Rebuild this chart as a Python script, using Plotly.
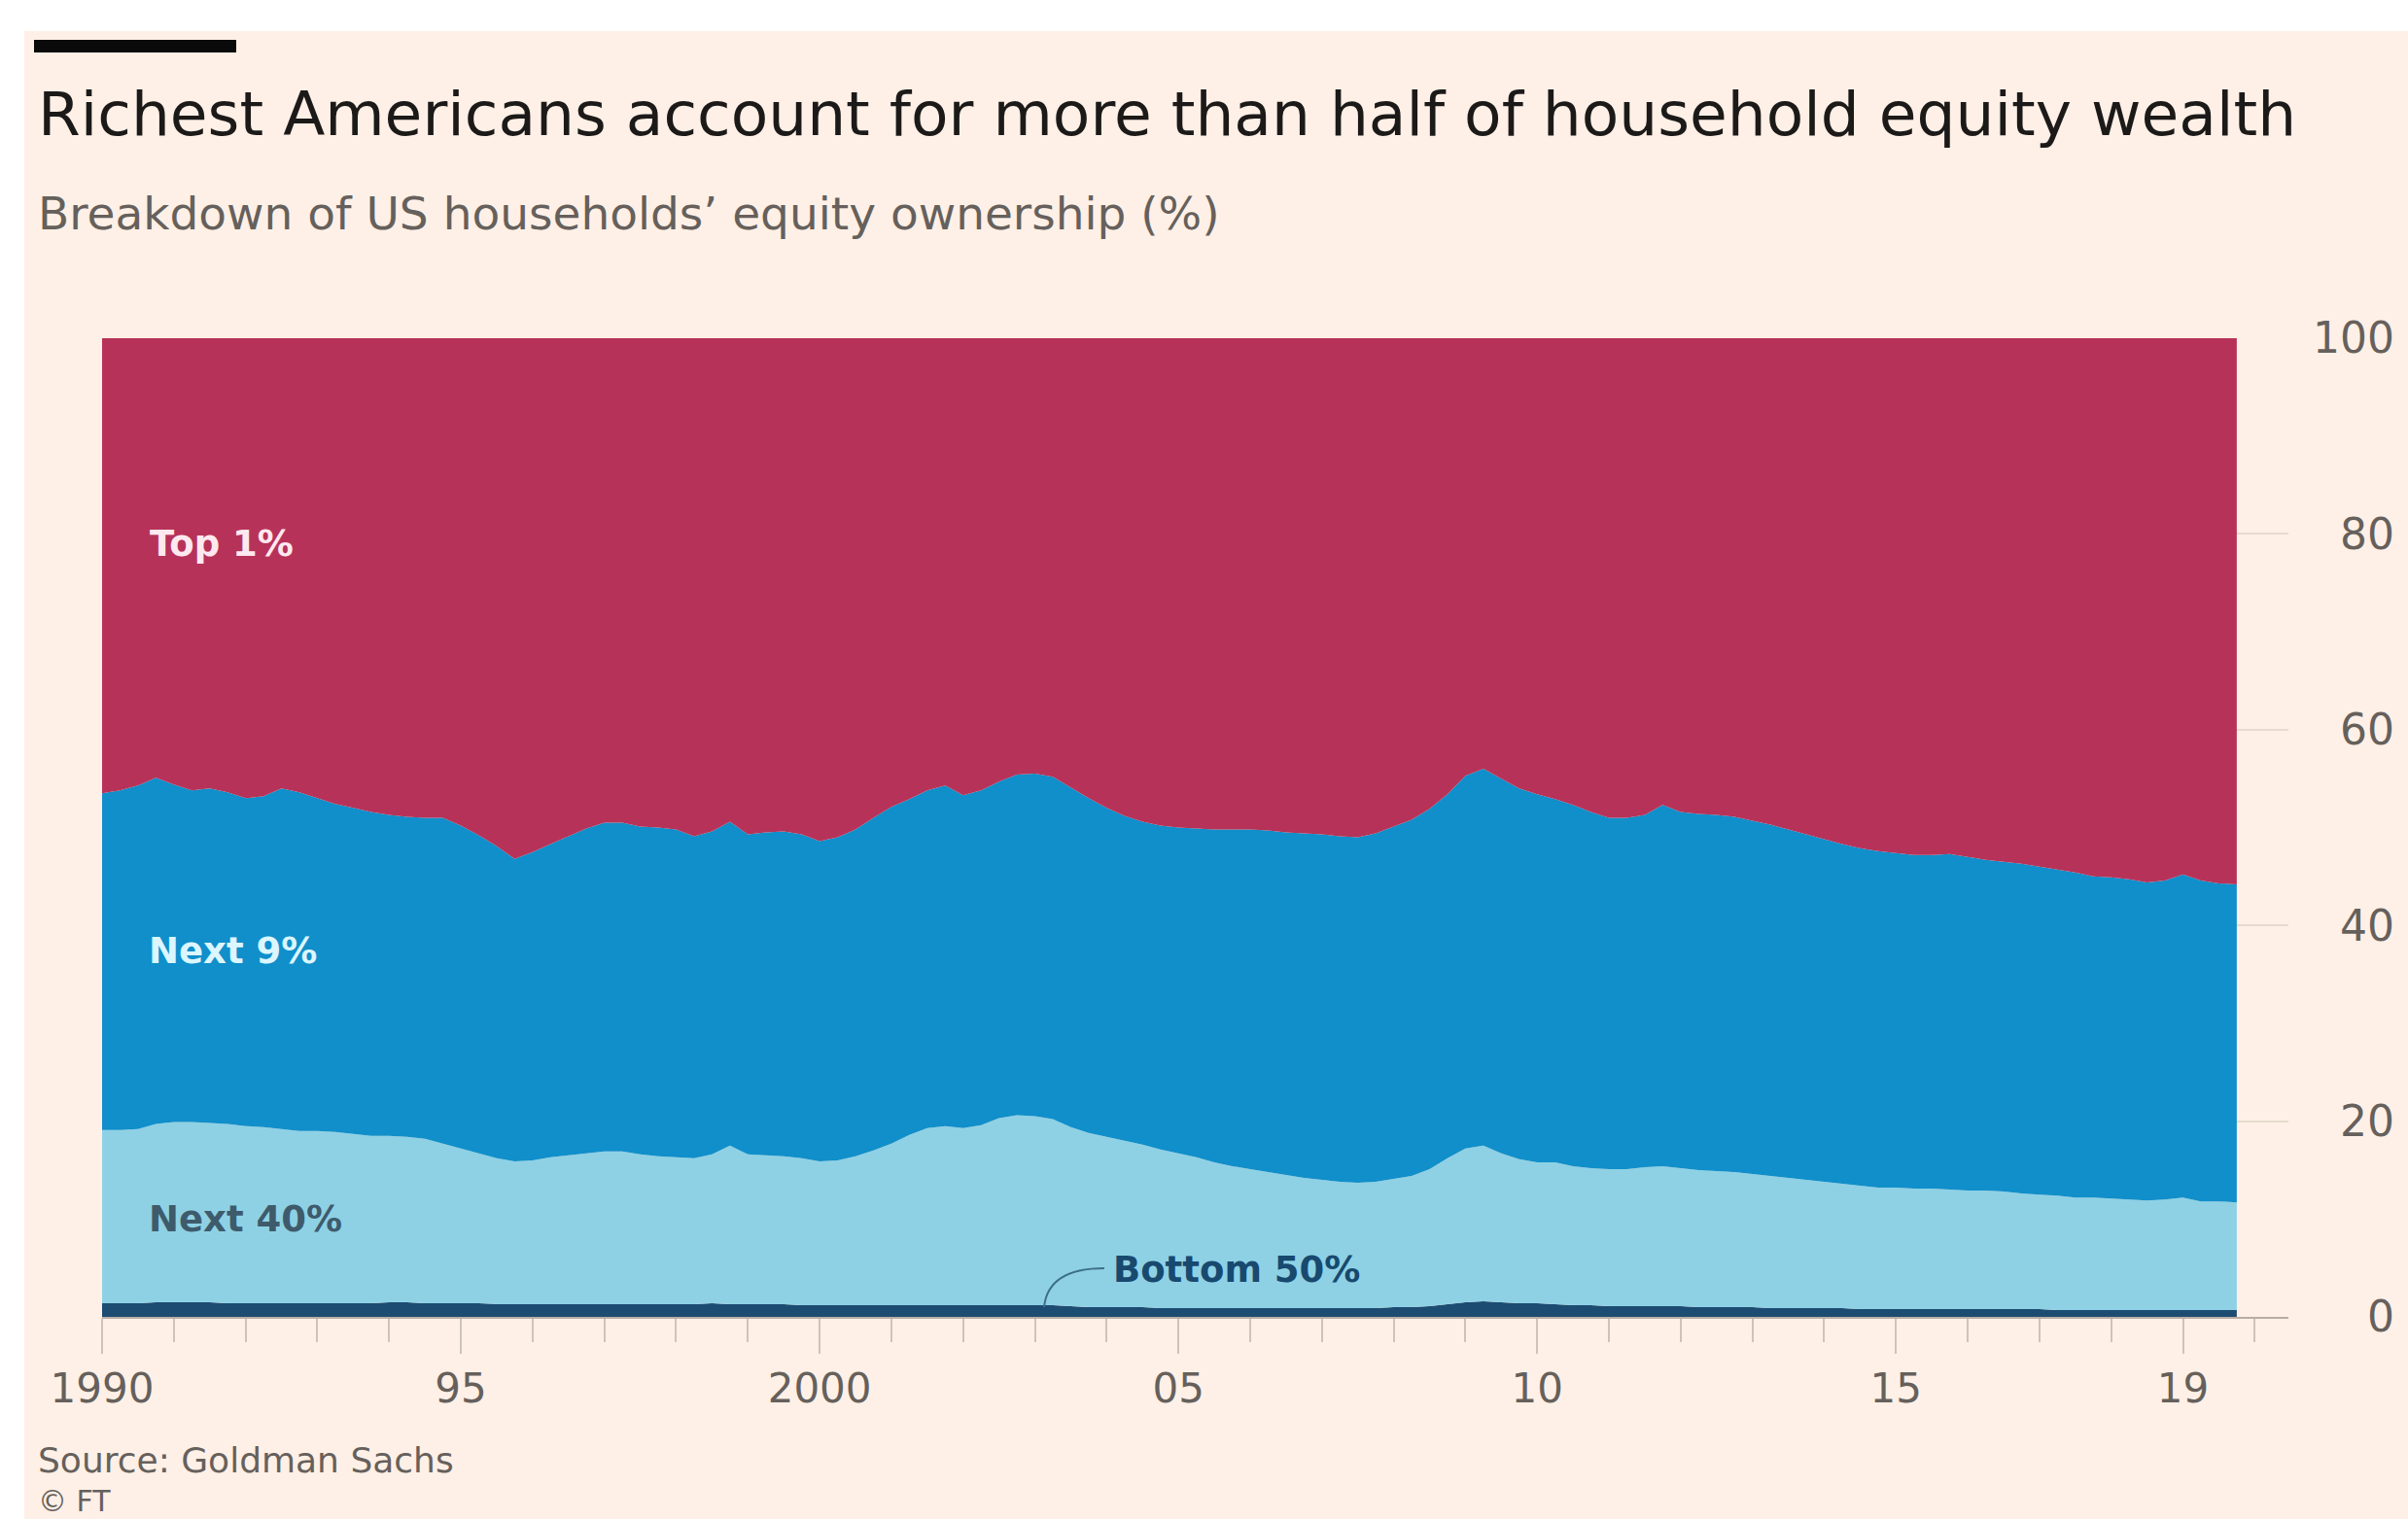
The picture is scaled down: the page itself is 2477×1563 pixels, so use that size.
import plotly.graph_objects as go

# ---------------- data (quarterly, 1990 Q1 - 2019 Q4 positions) ----------------
quarters = [1990 + 0.25 * i for i in range(120)]

bottom_50 = [
    1.4, 1.4, 1.4, 1.5,  1.5, 1.5, 1.5, 1.4,  1.4, 1.4, 1.4, 1.4,  1.4, 1.4, 1.4, 1.4,
    1.5, 1.5, 1.4, 1.4,  1.4, 1.4, 1.3, 1.3,  1.3, 1.3, 1.3, 1.3,  1.3, 1.3, 1.3, 1.3,
    1.3, 1.3, 1.4, 1.3,  1.3, 1.3, 1.3, 1.2,  1.2, 1.2, 1.2, 1.2,  1.2, 1.2, 1.2, 1.2,
    1.2, 1.2, 1.2, 1.2,  1.2, 1.2, 1.1, 1.0,  1.0, 1.0, 1.0, 0.9,  0.9, 0.9, 0.9, 0.9,
    0.9, 0.9, 0.9, 0.9,  0.9, 0.9, 0.9, 0.9,  1.0, 1.0, 1.1, 1.3,  1.5, 1.6, 1.5, 1.4,
    1.4, 1.3, 1.2, 1.2,  1.1, 1.1, 1.1, 1.1,  1.1, 1.0, 1.0, 1.0,  1.0, 0.9, 0.9, 0.9,
    0.9, 0.9, 0.8, 0.8,  0.8, 0.8, 0.8, 0.8,  0.8, 0.8, 0.8, 0.8,  0.8, 0.7, 0.7, 0.7,
    0.7, 0.7, 0.7, 0.7,  0.7, 0.7, 0.7, 0.7,
]

next_40 = [
    17.7, 17.7, 17.8, 18.2,  18.4, 18.4, 18.3, 18.3,  18.1, 18.0, 17.8, 17.6,
    17.6, 17.5, 17.3, 17.1,  17.0, 16.9, 16.8, 16.3,  15.8, 15.3, 14.9, 14.6,
    14.7, 15.0, 15.2, 15.4,  15.6, 15.6, 15.3, 15.1,  15.0, 14.9, 15.2, 16.2,
    15.3, 15.2, 15.1, 15.0,  14.7, 14.8, 15.2, 15.8,  16.5, 17.4, 18.1, 18.3,
    18.1, 18.4, 19.1, 19.4,  19.3, 19.0, 18.3, 17.8,  17.4, 17.0, 16.6, 16.2,
    15.8, 15.4, 14.9, 14.5,  14.2, 13.9, 13.6, 13.3,  13.1, 12.9, 12.8, 12.9,
    13.1, 13.4, 14.0, 14.9,  15.7, 15.9, 15.2, 14.7,  14.4, 14.5, 14.2, 14.0,
    14.0, 14.0, 14.2, 14.3,  14.1, 14.0, 13.9, 13.8,  13.6, 13.5, 13.3, 13.1,
    12.9, 12.7, 12.6, 12.4,  12.4, 12.3, 12.3, 12.2,  12.1, 12.1, 12.0, 11.8,
    11.7, 11.7, 11.5, 11.5,  11.4, 11.3, 11.2, 11.3,  11.5, 11.1, 11.1, 11.0,
]

next_9 = [
    34.4, 34.7, 35.1, 35.4,  34.5, 33.9, 34.2, 33.9,  33.5, 33.8, 34.8, 34.6,
    34.0, 33.5, 33.3, 33.1,  32.8, 32.7, 32.8, 33.3,  33.0, 32.5, 31.9, 30.9,
    31.5, 32.0, 32.6, 33.2,  33.6, 33.6, 33.5, 33.6,  33.5, 32.9, 33.0, 33.1,
    32.7, 33.0, 33.2, 33.1,  32.7, 33.0, 33.4, 34.0,  34.4, 34.3, 34.5, 34.8,
    34.0, 34.2, 34.4, 34.8,  35.0, 35.0, 34.7, 34.2,  33.6, 33.2, 33.0, 33.1,
    33.3, 33.6, 34.0, 34.4,  34.7, 34.9, 35.0, 35.2,  35.3, 35.3, 35.3, 35.6,
    36.0, 36.4, 36.8, 37.2,  38.1, 38.5, 38.3, 37.9,  37.6, 37.1, 36.9, 36.4,
    35.9, 35.9, 36.0, 36.9,  36.4, 36.4, 36.4, 36.3,  36.1, 35.9, 35.6, 35.3,
    35.0, 34.7, 34.5, 34.4,  34.2, 34.1, 34.1, 34.3,  34.1, 33.8, 33.7, 33.7,
    33.5, 33.3, 33.2, 32.8,  32.8, 32.7, 32.5, 32.6,  33.0, 32.8, 32.5, 32.5,
]

top_1 = [
    46.5, 46.2, 45.7, 44.9,  45.6, 46.2, 46.0, 46.4,  47.0, 46.8, 46.0, 46.4,
    47.0, 47.6, 48.0, 48.4,  48.7, 48.9, 49.0, 49.0,  49.8, 50.8, 51.9, 53.2,
    52.5, 51.7, 50.9, 50.1,  49.5, 49.5, 49.9, 50.0,  50.2, 50.9, 50.4, 49.4,
    50.7, 50.5, 50.4, 50.7,  51.4, 51.0, 50.2, 49.0,  47.9, 47.1, 46.2, 45.7,
    46.7, 46.2, 45.3, 44.6,  44.5, 44.8, 45.9, 47.0,  48.0, 48.8, 49.4, 49.8,
    50.0, 50.1, 50.2, 50.2,  50.2, 50.3, 50.5, 50.6,  50.7, 50.9, 51.0, 50.6,
    49.9, 49.2, 48.1, 46.6,  44.7, 44.0, 45.0, 46.0,  46.6, 47.1, 47.7, 48.4,
    49.0, 49.0, 48.7, 47.7,  48.4, 48.6, 48.7, 48.9,  49.3, 49.7, 50.2, 50.7,
    51.2, 51.7, 52.1, 52.4,  52.6, 52.8, 52.8, 52.7,  53.0, 53.3, 53.5, 53.7,
    54.0, 54.3, 54.6, 55.0,  55.1, 55.3, 55.6, 55.4,  54.8, 55.4, 55.7, 55.8,
]

series_names = ["Bottom 50%", "Next 40%", "Next 9%", "Top 1%"]
series_colors = ["#1c4c72", "#8ed1e5", "#108fca", "#b73259"]

x_tickvals = [1990, 1995, 2000, 2005, 2010, 2015, 2019]
x_ticktext = ["1990", "95", "2000", "05", "10", "15", "19"]
y_tickvals = [0, 20, 40, 60, 80, 100]

# ---------------- layout helpers (pixel -> paper) ----------------
W, H = 2477, 1563
ML, MR, MT, MB = 105, 14, 348, 208
PW, PH = W - ML - MR, H - MT - MB


def px(x):
    return (x - ML) / PW


def py(y):
    return (H - MB - y) / PH


FONT = "DejaVu Sans"

fig = go.Figure()
for name, vals, col in zip(series_names, [bottom_50, next_40, next_9, top_1], series_colors):
    fig.add_trace(go.Scatter(
        x=quarters, y=vals, name=name, mode="none",
        stackgroup="one", groupnorm="percent",
        fillcolor=col, hoverinfo="skip",
    ))

fig.update_layout(
    width=W, height=H,
    margin=dict(l=ML, r=MR, t=MT, b=MB, pad=0),
    paper_bgcolor="#ffffff",
    plot_bgcolor="rgba(0,0,0,0)",
    showlegend=False,
    hovermode=False,
    xaxis=dict(
        range=[1990, 2020.47], domain=[0, px(2354)],
        tickmode="array", tickvals=x_tickvals, ticktext=x_ticktext,
        ticks="outside", ticklen=36, tickwidth=2, tickcolor="#cfc3b9",
        minor=dict(ticks="outside", ticklen=24, tickwidth=2, tickcolor="#cfc3b9",
                   tick0=1990, dtick=1, showgrid=False),
        showgrid=False, zeroline=False,
        showline=True, linecolor="#b9ada4", linewidth=2,
        tickfont=dict(family=FONT, size=42, color="#66605c"),
        ticklabelstandoff=0,
        fixedrange=True,
    ),
    yaxis=dict(
        range=[0, 100], side="left", anchor="free", position=1.0,
        tickmode="array", tickvals=y_tickvals,
        ticks="", showgrid=True, gridcolor="#e7dbd0", gridwidth=2,
        zeroline=False, showline=False,
        tickfont=dict(family=FONT, size=44, color="#66605c"),
        fixedrange=True,
    ),
)

shapes = [
    # cream background panel
    dict(type="rect", xref="paper", yref="paper", x0=px(25), x1=px(W + 5), y0=py(H + 5), y1=py(32),
         fillcolor="#fef0e6", line=dict(width=0), layer="below"),
    # black bar top-left
    dict(type="rect", xref="paper", yref="paper", x0=px(35), x1=px(243), y0=py(54), y1=py(41),
         fillcolor="#0a0a0a", line=dict(width=0), layer="above"),
    # leader line for Bottom 50%
    dict(type="path", xref="paper", yref="paper",
         path=f"M {px(1074)},{py(1345)} Q {px(1078)},{py(1305)} {px(1136)},{py(1305)}",
         line=dict(color="#3d6f89", width=2), layer="above"),
]
fig.update_layout(shapes=shapes)

annotations = [
    dict(text="Richest Americans account for more than half of household equity wealth",
         x=px(38), y=py(117), xanchor="left", yanchor="middle",
         font=dict(family=FONT, size=63, color="#1c1a19")),
    dict(text="Breakdown of US households’ equity ownership (%)",
         x=px(38), y=py(219), xanchor="left", yanchor="middle",
         font=dict(family=FONT, size=47, color="#66605c")),
    dict(text="Source: Goldman Sachs",
         x=px(38), y=py(1502), xanchor="left", yanchor="middle",
         font=dict(family=FONT, size=36, color="#66605c")),
    dict(text="© FT",
         x=px(38), y=py(1544), xanchor="left", yanchor="middle",
         font=dict(family=FONT, size=30, color="#66605c")),
    dict(text="Top 1%", x=px(153), y=py(559), xanchor="left", yanchor="middle",
         font=dict(family=FONT, size=37, color="#fde9ef", weight="bold")),
    dict(text="Next 9%", x=px(152), y=py(978), xanchor="left", yanchor="middle",
         font=dict(family=FONT, size=37, color="#dcf6ff", weight="bold")),
    dict(text="Next 40%", x=px(152), y=py(1254), xanchor="left", yanchor="middle",
         font=dict(family=FONT, size=37, color="#3e5b6c", weight="bold")),
    dict(text="Bottom 50%", x=px(1144), y=py(1306), xanchor="left", yanchor="middle",
         font=dict(family=FONT, size=37, color="#18496e", weight="bold")),
]
for a in annotations:
    a.update(xref="paper", yref="paper", showarrow=False, borderpad=0)
fig.update_layout(annotations=annotations)

fig.write_html("out.html", include_plotlyjs=True, full_html=True,
               config={"displayModeBar": False, "staticPlot": True},
               post_script="document.body.style.margin='0';document.body.style.overflow='hidden';")
